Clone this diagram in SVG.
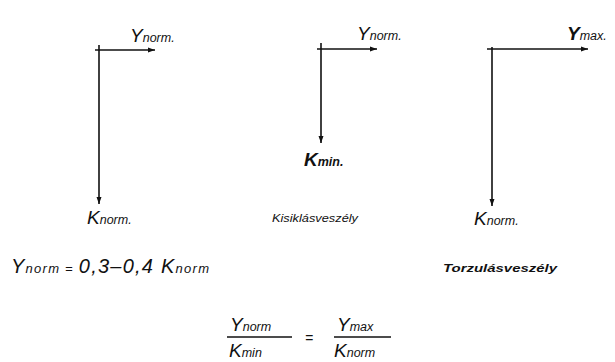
<svg xmlns="http://www.w3.org/2000/svg" width="615" height="362" viewBox="0 0 615 362">
<defs>
<marker id="ah" markerWidth="8" markerHeight="8" refX="7" refY="4" orient="auto" markerUnits="userSpaceOnUse">
<path d="M0,1.5 L7,4 L0,6.5 Z" fill="#111"/>
</marker>
<style>
.ln{stroke:#111;stroke-width:1.6;fill:none}
.t{font-family:"Liberation Sans",Arial,sans-serif;font-style:italic;fill:#111}
.big{font-size:19px}
.sub{font-size:12.5px}
.bold{font-weight:bold}
.cap{font-size:10px}
</style>
</defs>
<rect width="615" height="362" fill="#fff"/>
<g id="connectors">
<line class="ln" x1="95" y1="50" x2="155" y2="50" marker-end="url(#ah)"/>
<line class="ln" x1="99" y1="45" x2="99" y2="204" marker-end="url(#ah)"/>
<line class="ln" x1="317" y1="49" x2="377" y2="49" marker-end="url(#ah)"/>
<line class="ln" x1="321" y1="43" x2="321" y2="143" marker-end="url(#ah)"/>
<line class="ln" x1="487" y1="49" x2="588" y2="49" marker-end="url(#ah)"/>
<line class="ln" x1="492" y1="47" x2="492" y2="206" marker-end="url(#ah)"/>
</g>
<g id="ynorm1"><text class="t big" x="130" y="42">Y<tspan class="sub">norm.</tspan></text></g>
<g id="knorm1"><text class="t big" x="87" y="224">K<tspan class="sub">norm.</tspan></text></g>
<g id="ynorm2"><text class="t big" x="357" y="40">Y<tspan class="sub">norm.</tspan></text></g>
<g id="kmin"><text class="t big bold" x="304" y="166">K<tspan class="sub">min.</tspan></text></g>
<g id="kisiklas"><text class="t cap" x="272" y="222" textLength="86" lengthAdjust="spacingAndGlyphs">Kisiklásveszély</text></g>
<g id="ymax"><text class="t big bold" x="567" y="40">Y<tspan class="sub" font-weight="normal">max.</tspan></text></g>
<g id="knorm3"><text class="t big" x="474" y="225">K<tspan class="sub">norm.</tspan></text></g>
<g id="torzulas"><text class="t cap bold" x="443" y="272" textLength="114" lengthAdjust="spacingAndGlyphs">Torzulásveszély</text></g>
<g id="formula1"><text class="t" font-size="20px" x="11" y="273" textLength="198">Y<tspan font-size="13px">norm</tspan><tspan font-size="13px"> = </tspan>0,3–0,4 K<tspan font-size="13px">norm</tspan></text></g>
<g id="formula2">
<text class="t big" x="230" y="331">Y<tspan class="sub">norm</tspan></text>
<line class="ln" x1="227" y1="337" x2="292" y2="337" stroke-width="1.2"/>
<text class="t big" x="229" y="357">K<tspan class="sub">min</tspan></text>
<text class="t" x="305" y="343" font-size="14px">=</text>
<text class="t big" x="337" y="331">Y<tspan class="sub">max</tspan></text>
<line class="ln" x1="334" y1="337" x2="391" y2="337" stroke-width="1.2"/>
<text class="t big" x="334" y="357">K<tspan class="sub">norm</tspan></text>
</g>
</svg>
